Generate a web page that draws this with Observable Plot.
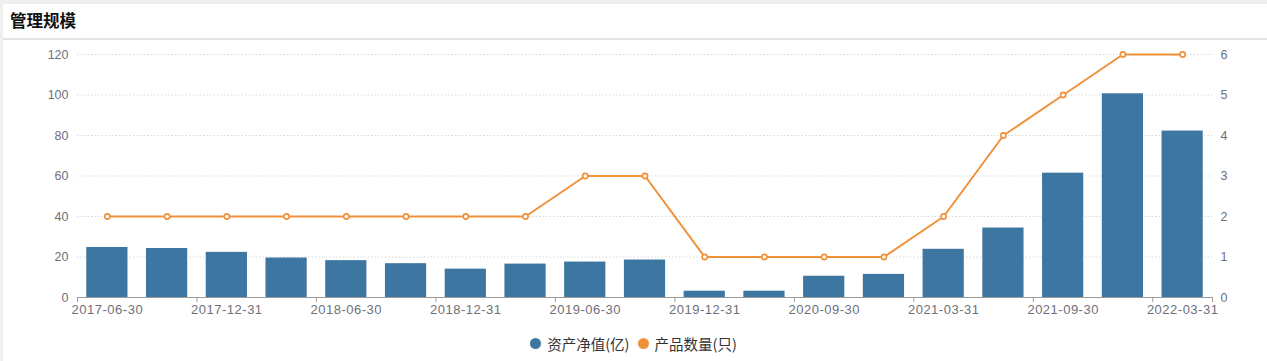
<!DOCTYPE html>
<html>
<head>
<meta charset="utf-8">
<script src="https://cdn.jsdelivr.net/npm/d3@7"></script>
<script src="https://cdn.jsdelivr.net/npm/@observablehq/plot@0.6"></script>
<style>
  html, body { margin: 0; padding: 0; }
  body { width: 1267px; height: 361px; background: #efefef; position: relative; overflow: hidden;
         font-family: "Liberation Sans", Arial, "Noto Sans CJK SC", sans-serif; }
  #panel { position: absolute; left: 3px; top: 4px; right: 0; bottom: 0; background: #fff; }
  #title { position: absolute; left: 10px; top: 9px; font-size: 16.5px; font-weight: bold; color: #111;
           font-family: "Noto Sans CJK SC", sans-serif; line-height: 22px; }
  #divider { position: absolute; left: 3px; right: 0; top: 38px; height: 2px; background: #e4e4e4; }
  #chart { position: absolute; left: 0; top: 40px; }
  #legend { position: absolute; left: 0; width: 1267px; top: 332px; text-align: center; font-size: 14.5px;
            color: #333; font-family: "Noto Sans CJK SC", sans-serif; }
  .item { display: inline-flex; align-items: center; margin: 0 4px; }
  .sw { width: 11px; height: 11px; border-radius: 50%; display: inline-block; margin-right: 6px; }
  .xlab text { letter-spacing: 0.5px; }
</style>
</head>
<body>
<div id="panel"></div>
<div id="title">管理规模</div>
<div id="divider"></div>
<div id="chart"></div>
<div id="legend"></div>
<script>
const dates = ["2017-06-30","2017-09-30","2017-12-31","2018-03-31","2018-06-30","2018-09-30","2018-12-31",
  "2019-03-31","2019-06-30","2019-09-30","2019-12-31","2020-06-30","2020-09-30","2020-12-31",
  "2021-03-31","2021-06-30","2021-09-30","2021-12-31","2022-03-31"];
const netAssets = [24.7, 24.2, 22.3, 19.5, 18.2, 16.7, 14.0, 16.5, 17.5, 18.5, 3.1, 3.1, 10.5, 11.4, 23.8, 34.3, 61.4, 100.6, 82.2];
const productCount = [2, 2, 2, 2, 2, 2, 2, 2, 3, 3, 1, 1, 1, 1, 2, 4, 5, 6, 6];
const leftTicks = [0, 20, 40, 60, 80, 100, 120];
const seriesNames = ["资产净值(亿)", "产品数量(只)"];
const colors = ["#3d76a0", "#f0913a"];

const data = dates.map((d, i) => ({date: d, value: netAssets[i], count: productCount[i]}));
const ratio = 120 / 6;

const W = 1267, H = 285, mL = 77, mR = 55;
const step = (W - mL - mR) / dates.length;
const evenDates = dates.filter((d, i) => i % 2 === 0);
const oddDates = dates.filter((d, i) => i % 2 === 1).concat([dates[dates.length - 1]]);
const axisColor = "#6e7079";

const chart = Plot.plot({
  width: W, height: H,
  marginLeft: mL, marginRight: mR, marginTop: 14, marginBottom: 28,
  style: {fontSize: "12px", fontFamily: "'Liberation Sans', Arial, sans-serif", background: "transparent"},
  x: {domain: dates, type: "band", paddingInner: 0.31, paddingOuter: 0.155, align: 0.5, round: false, label: null},
  y: {domain: [0, 120], label: null},
  marks: [
    Plot.gridY(leftTicks.slice(1), {stroke: "#d9d9d9", strokeOpacity: 1, strokeDasharray: "1.5,2"}),
    Plot.barY(data, {x: "date", y: "value", fill: colors[0]}),
    Plot.ruleY([0], {stroke: "#9a9a9a", strokeWidth: 1}),
    Plot.axisX([dates[0]], {tickSize: 5, tickFormat: () => "", dx: -step / 2, stroke: "#9a9a9a"}),
    Plot.axisX(oddDates, {tickSize: 5, tickFormat: () => "", dx: step / 2, stroke: "#9a9a9a"}),
    Plot.axisX({ticks: evenDates, tickSize: 0, tickPadding: 7, color: axisColor, fontSize: 13, label: null, className: "xlab"}),
    Plot.axisY({anchor: "left", ticks: leftTicks, tickSize: 0, tickPadding: 9, color: axisColor, fontSize: 12.5, label: null}),
    Plot.axisY({anchor: "right", ticks: leftTicks, tickFormat: d => d / ratio, tickSize: 0, tickPadding: 8, color: axisColor, fontSize: 12.5, label: null}),
    Plot.line(data, {x: "date", y: d => d.count * ratio, stroke: colors[1], strokeWidth: 2}),
    Plot.dot(data, {x: "date", y: d => d.count * ratio, r: 2.6, fill: "#fff", stroke: colors[1], strokeWidth: 1.6})
  ]
});
document.getElementById("chart").appendChild(chart);

const legend = document.getElementById("legend");
seriesNames.forEach((n, i) => {
  const it = document.createElement("span");
  it.className = "item";
  it.innerHTML = `<span class="sw" style="background:${colors[i]}"></span><span>${n}</span>`;
  legend.appendChild(it);
});
</script>
</body>
</html>
